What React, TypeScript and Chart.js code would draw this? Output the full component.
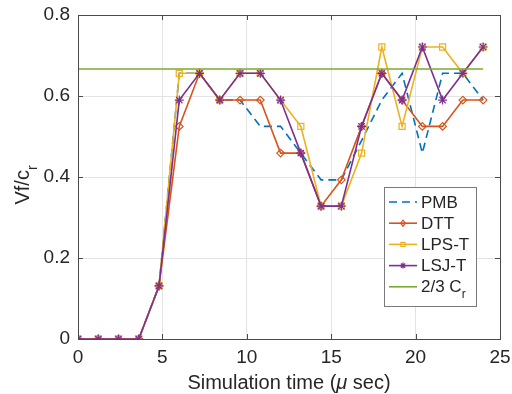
import React, { useEffect, useRef } from "react";
import { Chart, registerables } from "chart.js";

Chart.register(...registerables);

// ---------- data ----------
const timeUs = [0, 1.2, 2.4, 3.6, 4.8, 6.0, 7.2, 8.4, 9.6, 10.8, 12.0, 13.2, 14.4, 15.6, 16.8, 18.0, 19.2, 20.4, 21.6, 22.8, 24.0];
const pmb = [0, 0, 0, 0, 0.131, 0.656, 0.656, 0.59, 0.59, 0.525, 0.525, 0.459, 0.393, 0.393, 0.49, 0.59, 0.656, 0.459, 0.656, 0.656, 0.59];
const dtt = [0, 0, 0, 0, 0.131, 0.525, 0.656, 0.59, 0.59, 0.59, 0.459, 0.459, 0.328, 0.393, 0.525, 0.656, 0.59, 0.525, 0.525, 0.59, 0.59];
const lpsT = [0, 0, 0, 0, 0.131, 0.656, 0.656, 0.59, 0.656, 0.656, 0.59, 0.525, 0.328, 0.328, 0.459, 0.721, 0.525, 0.721, 0.721, 0.656, 0.721];
const lsjT = [0, 0, 0, 0, 0.131, 0.59, 0.656, 0.59, 0.656, 0.656, 0.59, 0.459, 0.328, 0.328, 0.525, 0.656, 0.59, 0.721, 0.59, 0.656, 0.721];
const crX = [0, 24];
const crY = [2 / 3, 2 / 3];
const xTicks = [0, 5, 10, 15, 20, 25];
const yTicks = [0, 0.2, 0.4, 0.6, 0.8];
const legendLabels = ["PMB", "DTT", "LPS-T", "LSJ-T", "2/3 C"];

// ---------- styles ----------
const C_PMB = "#0072BD";
const C_DTT = "#D95319";
const C_LPS = "#EDB120";
const C_LSJ = "#7E2F8E";
const C_CR = "#77AC30";
const FONT = "'Liberation Sans', Arial, Helvetica, sans-serif";
const AXIS_COLOR = "#4a4a4a";
const TEXT_COLOR = "#262626";

const pts = (xs: number[], ys: number[]) => xs.map((x, i) => ({ x, y: ys[i] }));

function drawMarker(ctx: CanvasRenderingContext2D, kind: string, x: number, y: number, r: number, color: string) {
  ctx.save();
  ctx.strokeStyle = color;
  ctx.lineWidth = 1.2;
  ctx.beginPath();
  if (kind === "diamond") {
    ctx.moveTo(x, y - r);
    ctx.lineTo(x + r * 0.8, y);
    ctx.lineTo(x, y + r);
    ctx.lineTo(x - r * 0.8, y);
    ctx.closePath();
  } else if (kind === "square") {
    ctx.rect(x - r * 0.7, y - r * 0.7, r * 1.4, r * 1.4);
  } else if (kind === "star") {
    for (let a = 0; a < 4; a++) {
      const ang = (a * Math.PI) / 4;
      ctx.moveTo(x - Math.cos(ang) * r, y - Math.sin(ang) * r);
      ctx.lineTo(x + Math.cos(ang) * r, y + Math.sin(ang) * r);
    }
  }
  ctx.stroke();
  ctx.restore();
}

type Part = { t: string; font: string; dy: number };
function partsWidth(ctx: CanvasRenderingContext2D, parts: Part[]) {
  let w = 0;
  for (const p of parts) {
    ctx.font = p.font;
    w += ctx.measureText(p.t).width;
  }
  return w;
}
function drawParts(ctx: CanvasRenderingContext2D, parts: Part[], x: number, y: number) {
  let cx = x;
  for (const p of parts) {
    ctx.font = p.font;
    ctx.fillText(p.t, cx, y + p.dy);
    cx += ctx.measureText(p.t).width;
  }
}

const decorPlugin = {
  id: "decor",
  afterDraw(chart: any) {
    const ctx: CanvasRenderingContext2D = chart.ctx;
    const { left, right, top, bottom } = chart.chartArea;
    const xs = chart.scales.x;
    const ys = chart.scales.y;
    ctx.save();
    // frame
    ctx.strokeStyle = AXIS_COLOR;
    ctx.lineWidth = 1;
    ctx.strokeRect(Math.round(left) + 0.5, Math.round(top) + 0.5, Math.round(right - left), Math.round(bottom - top));
    // inward ticks
    const tl = 5;
    ctx.beginPath();
    for (const v of xTicks) {
      const px = Math.round(xs.getPixelForValue(v)) + 0.5;
      ctx.moveTo(px, bottom);
      ctx.lineTo(px, bottom - tl);
      ctx.moveTo(px, top);
      ctx.lineTo(px, top + tl);
    }
    for (const v of yTicks) {
      const py = Math.round(ys.getPixelForValue(v)) + 0.5;
      ctx.moveTo(left, py);
      ctx.lineTo(left + tl, py);
      ctx.moveTo(right, py);
      ctx.lineTo(right - tl, py);
    }
    ctx.stroke();

    // axis titles
    ctx.fillStyle = TEXT_COLOR;
    ctx.textBaseline = "alphabetic";
    ctx.textAlign = "left";
    const tf = `20px ${FONT}`;
    const xParts: Part[] = [
      { t: "Simulation time (", font: tf, dy: 0 },
      { t: "\u03bc", font: `italic 20px ${FONT}`, dy: 0 },
      { t: " sec)", font: tf, dy: 0 },
    ];
    const xw = partsWidth(ctx, xParts);
    drawParts(ctx, xParts, (left + right) / 2 - xw / 2, 389);

    const yParts: Part[] = [
      { t: "Vf/c", font: tf, dy: 0 },
      { t: "r", font: `14px ${FONT}`, dy: 8 },
    ];
    const yw = partsWidth(ctx, yParts);
    ctx.save();
    ctx.translate(29, (top + bottom) / 2 + 8);
    ctx.rotate(-Math.PI / 2);
    drawParts(ctx, yParts, -yw / 2, 0);
    ctx.restore();

    // legend
    const bx = 384.5, by = 187.5, bw = 92, bh = 119;
    ctx.fillStyle = "#ffffff";
    ctx.fillRect(bx, by, bw, bh);
    ctx.strokeStyle = "#7a7a7a";
    ctx.lineWidth = 1;
    ctx.strokeRect(bx, by, bw, bh);
    const colors = [C_PMB, C_DTT, C_LPS, C_LSJ, C_CR];
    const markers = ["", "diamond", "square", "star", ""];
    const lf = `17px ${FONT}`;
    for (let i = 0; i < 5; i++) {
      const yc = 202 + i * 21.2;
      ctx.strokeStyle = colors[i];
      ctx.lineWidth = 1.6;
      ctx.setLineDash(i === 0 ? [8, 5] : []);
      ctx.beginPath();
      ctx.moveTo(389, yc);
      ctx.lineTo(417, yc);
      ctx.stroke();
      ctx.setLineDash([]);
      if (markers[i]) drawMarker(ctx, markers[i], 403, yc, 3, colors[i]);
      ctx.fillStyle = TEXT_COLOR;
      ctx.textBaseline = "middle";
      ctx.font = lf;
      ctx.fillText(legendLabels[i], 421, yc + 1);
      if (i === 4) {
        const w = ctx.measureText(legendLabels[i]).width;
        ctx.font = `12px ${FONT}`;
        ctx.fillText("r", 421 + w, yc + 8);
      }
    }
    ctx.restore();
  },
};

export default function App() {
  const ref = useRef<HTMLCanvasElement | null>(null);

  useEffect(() => {
    if (!ref.current) return;
    const lineBase = { showLine: true, borderWidth: 1.6, pointBorderWidth: 1.2, pointBackgroundColor: "rgba(0,0,0,0)", tension: 0 };
    const chart = new Chart(ref.current, {
      type: "scatter",
      data: {
        datasets: [
          { ...lineBase, label: "2/3 Cr", data: pts(crX, crY), borderColor: C_CR, pointRadius: 0 },
          { ...lineBase, label: "LSJ-T", data: pts(timeUs, lsjT), borderColor: C_LSJ, pointBorderColor: C_LSJ, pointStyle: "star", pointRadius: 4.5 },
          { ...lineBase, label: "LPS-T", data: pts(timeUs, lpsT), borderColor: C_LPS, pointBorderColor: C_LPS, pointStyle: "rect", pointRadius: 4.3 },
          { ...lineBase, label: "DTT", data: pts(timeUs, dtt), borderColor: C_DTT, pointBorderColor: C_DTT, pointStyle: "rectRot", pointRadius: 3.8 },
          { ...lineBase, label: "PMB", data: pts(timeUs, pmb), borderColor: C_PMB, borderDash: [8, 5], pointRadius: 0 },
        ],
      } as any,
      options: {
        animation: false,
        responsive: false,
        maintainAspectRatio: false,
        devicePixelRatio: 1,
        layout: { padding: { left: 0, right: 12, top: 15, bottom: 0 } },
        plugins: { legend: { display: false }, tooltip: { enabled: false } },
        scales: {
          x: {
            type: "linear",
            min: 0,
            max: 25,
            afterBuildTicks: (axis: any) => {
              axis.ticks = xTicks.map((v) => ({ value: v }));
            },
            afterFit: (s: any) => {
              s.height = 55;
              s.paddingLeft = 0;
              s.paddingRight = 0;
            },
            grid: { color: "#e3e3e3", drawTicks: false },
            border: { color: AXIS_COLOR },
            ticks: { color: TEXT_COLOR, font: { family: FONT, size: 19 }, padding: 7, maxRotation: 0 },
          },
          y: {
            type: "linear",
            min: 0,
            max: 0.8,
            afterBuildTicks: (axis: any) => {
              axis.ticks = yTicks.map((v) => ({ value: v }));
            },
            afterFit: (s: any) => {
              s.width = 78;
              s.paddingTop = 0;
              s.paddingBottom = 0;
            },
            grid: { color: "#e3e3e3", drawTicks: false },
            border: { color: AXIS_COLOR },
            ticks: {
              color: TEXT_COLOR,
              font: { family: FONT, size: 19 },
              padding: 8,
              callback: (v: any) => String(Math.round(Number(v) * 10) / 10),
            },
          },
        },
      } as any,
      plugins: [decorPlugin],
    });
    return () => chart.destroy();
  }, []);

  return (
    <div style={{ position: "fixed", left: 0, top: 0, width: 512, height: 394, background: "#fff" }}>
      <canvas ref={ref} width={512} height={394} style={{ width: 512, height: 394, display: "block" }} />
    </div>
  );
}
